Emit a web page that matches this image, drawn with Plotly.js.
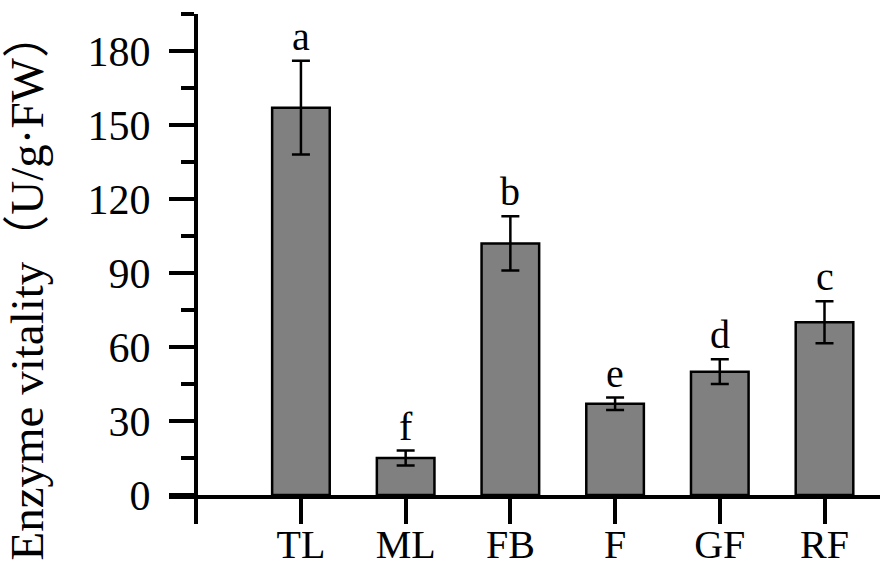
<!DOCTYPE html>
<html>
<head>
<meta charset="utf-8">
<script src="https://cdn.plot.ly/plotly-3.0.1.min.js"></script>
<style>
  html, body { margin: 0; padding: 0; background: #fff; }
  #chart { width: 886px; height: 572px; }
</style>
</head>
<body>
<div id="chart"></div>
<script>
// tissues and enzyme activity (U/g FW)
var tissues = ['TL', 'ML', 'FB', 'F', 'GF', 'RF'];
var positions = [1, 2, 3, 4, 5, 6];
var activity = [157, 15, 102, 37, 50, 70];
var errors = [19, 3, 11, 2.5, 5, 8.5];
var letters = ['a', 'f', 'b', 'e', 'd', 'c'];
var yTitle = 'Enzyme vitality（U/g·FW）';

var serif = '"Liberation Serif", "Times New Roman", "Noto Sans CJK SC", serif';

var trace = {
  x: positions,
  y: activity,
  type: 'bar',
  width: 0.55,
  marker: {color: '#808080', line: {color: '#000', width: 2.5}},
  error_y: {type: 'data', array: errors, visible: true, color: '#000', thickness: 2.5, width: 9},
  hoverinfo: 'none'
};

var notes = letters.map(function (t, i) {
  return {
    x: positions[i],
    y: activity[i] + errors[i],
    text: t,
    showarrow: false,
    yanchor: 'bottom',
    yshift: 0,
    font: {family: serif, size: 40, color: '#000'}
  };
});

// y title as a paper annotation so it can sit a bit below the plot centre, like the original
notes.push({
  xref: 'paper', yref: 'paper',
  x: -0.2, y: 0.435,
  xanchor: 'center', yanchor: 'middle',
  text: yTitle,
  textangle: -90,
  showarrow: false,
  font: {family: serif, size: 47, color: '#000'}
});

var layout = {
  width: 886,
  height: 572,
  margin: {l: 169, r: 6, t: 14, b: 77},
  paper_bgcolor: '#fff',
  plot_bgcolor: '#fff',
  showlegend: false,
  font: {family: serif, color: '#000'},
  xaxis: {
    range: [-0.26, 6.53],
    tickvals: [0].concat(positions),
    ticktext: [''].concat(tissues),
    ticks: 'outside',
    ticklen: 25,
    tickwidth: 4,
    tickcolor: '#000',
    ticklabelstandoff: -14,
    showline: true,
    linewidth: 4,
    linecolor: '#000',
    showgrid: false,
    zeroline: false,
    tickfont: {family: serif, size: 40, color: '#000'}
  },
  yaxis: {
    range: [0, 195],
    anchor: 'free',
    position: 0.038,
    tickvals: [0, 30, 60, 90, 120, 150, 180],
    ticks: 'outside',
    ticklen: 25,
    tickwidth: 4,
    tickcolor: '#000',
    ticklabelstandoff: 10,
    minor: {dtick: 15, ticks: 'outside', ticklen: 13, tickwidth: 4, tickcolor: '#000'},
    showline: true,
    linewidth: 4,
    linecolor: '#000',
    showgrid: false,
    zeroline: false,
    tickfont: {family: serif, size: 42, color: '#000'}
  },
  annotations: notes
};

Plotly.newPlot('chart', [trace], layout, {staticPlot: true});
</script>
</body>
</html>
